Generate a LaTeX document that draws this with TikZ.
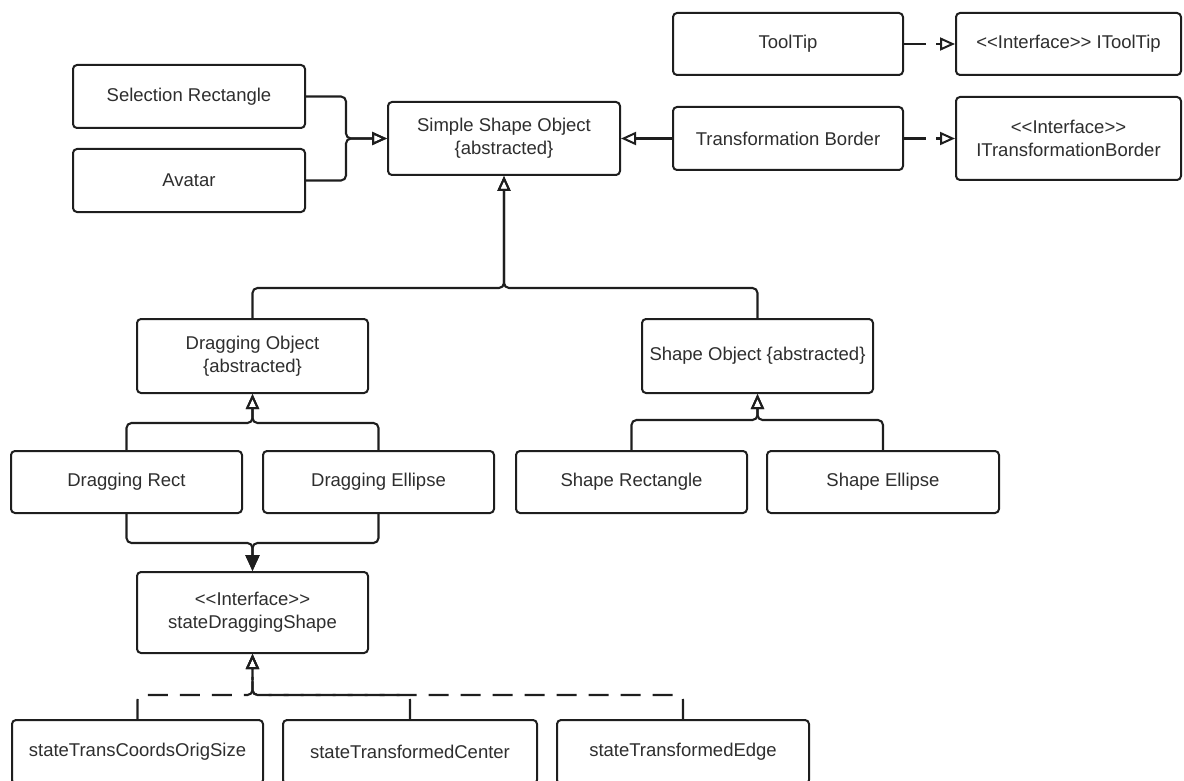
\documentclass[tikz,border=0pt]{standalone}
\usepackage{fontspec}
\setmainfont{Liberation Sans}
\usetikzlibrary{arrows.meta}
\definecolor{ink}{HTML}{1E1E1E}
\definecolor{txt}{HTML}{2E2E2E}
\begin{document}
\begin{tikzpicture}[x=1pt,y=-1pt,
  umlbox/.style={draw=ink, line width=2pt, rounded corners=4pt, fill=white,
    align=center, inner sep=0pt, text=txt,
    font=\fontsize{18.5}{23}\selectfont},
  conn/.style={draw=ink, line width=2.1pt, rounded corners=5pt},
  inh/.style={conn, -{Triangle[open, length=15pt, width=13pt, line width=2pt]}},
  dep/.style={conn, -{Triangle[length=16pt, width=14pt]}},
  realize/.style={inh, dash pattern=on 22pt off 10pt},
  realizelong/.style={inh, dash pattern=on 20pt off 12pt}]
\useasboundingbox (0,0) rectangle (1184,781);

% class boxes
\node[umlbox, minimum width=230pt, minimum height=62pt] (tt)  at (788,44)      {ToolTip};
\node[umlbox, minimum width=225pt, minimum height=62pt] (itt) at (1068.5,44)   {{<}{<}Interface{>}{>} IToolTip};
\node[umlbox, minimum width=230pt, minimum height=63pt] (tb)  at (788,138.5)   {Transformation Border};
\node[umlbox, minimum width=225pt, minimum height=83pt] (itb) at (1068.5,138.5) {{<}{<}Interface{>}{>}\\ITransformationBorder};
\node[umlbox, minimum width=232pt, minimum height=63pt] (sr)  at (189,96.5)    {Selection Rectangle};
\node[umlbox, minimum width=232pt, minimum height=63pt] (av)  at (189,180.5)   {Avatar};
\node[umlbox, minimum width=232pt, minimum height=73pt] (sso) at (504,138.5)   {Simple Shape Object\\\{abstracted\}};
\node[umlbox, minimum width=231pt, minimum height=74pt] (do)  at (252.5,356)   {Dragging Object\\\{abstracted\}};
\node[umlbox, minimum width=231pt, minimum height=74pt] (so)  at (757.5,356)   {Shape Object \{abstracted\}};
\node[umlbox, minimum width=231pt, minimum height=62pt] (drr) at (126.5,482)   {Dragging Rect};
\node[umlbox, minimum width=231pt, minimum height=62pt] (dre) at (378.5,482)   {Dragging Ellipse};
\node[umlbox, minimum width=231pt, minimum height=62pt] (shr) at (631.5,482)   {Shape Rectangle};
\node[umlbox, minimum width=232pt, minimum height=62pt] (she) at (883,482)     {Shape Ellipse};
\node[umlbox, minimum width=231pt, minimum height=81pt] (sds) at (252.5,612.5) {{<}{<}Interface{>}{>}\\stateDraggingShape};
\node[umlbox, minimum width=251pt, minimum height=64pt] (st1) at (137.5,752)   {stateTransCoordsOrigSize};
\node[umlbox, minimum width=254pt, minimum height=64pt] (st2) at (410,752)     {stateTransformedCenter};
\node[umlbox, minimum width=252pt, minimum height=64pt] (st3) at (683,752)     {stateTransformedEdge};

% junction points of the merged connectors
\coordinate (jsel) at (346,138.5);
\coordinate (jtop) at (504,288);
\coordinate (jdo)  at (252.5,423);
\coordinate (jso)  at (757.5,420);
\coordinate (jsds) at (252.5,543);
\coordinate (jst)  at (252.5,695);

% interfaces realised
\draw[realize] (tt.east) -- (itt.west);
\draw[realize] (tb.east) -- (itb.west);

% inheritance
\draw[inh] (tb.west) -- (sso.east);
\draw[inh] (sr.east) -| (jsel) -- (sso.west);
\draw[inh] (av.east) -| (jsel) -- (sso.west);
\draw[inh] (do.north) |- (jtop) -- (sso.south);
\draw[inh] (so.north) |- (jtop) -- (sso.south);
\draw[inh] (drr.north) |- (jdo) -- (do.south);
\draw[inh] (dre.north) |- (jdo) -- (do.south);
\draw[inh] (shr.north) |- (jso) -- (so.south);
\draw[inh] (she.north) |- (jso) -- (so.south);

% association to the dragging state
\draw[dep] (drr.south) |- (jsds) -- (sds.north);
\draw[dep] (dre.south) |- (jsds) -- (sds.north);

% states implementing the interface
\draw[realizelong] (st1.north) |- (jst) -- (sds.south);
\draw[realizelong] (st2.north) |- (jst) -- (sds.south);
\draw[realizelong] (st3.north) |- (jst) -- (sds.south);
\end{tikzpicture}
\end{document}
